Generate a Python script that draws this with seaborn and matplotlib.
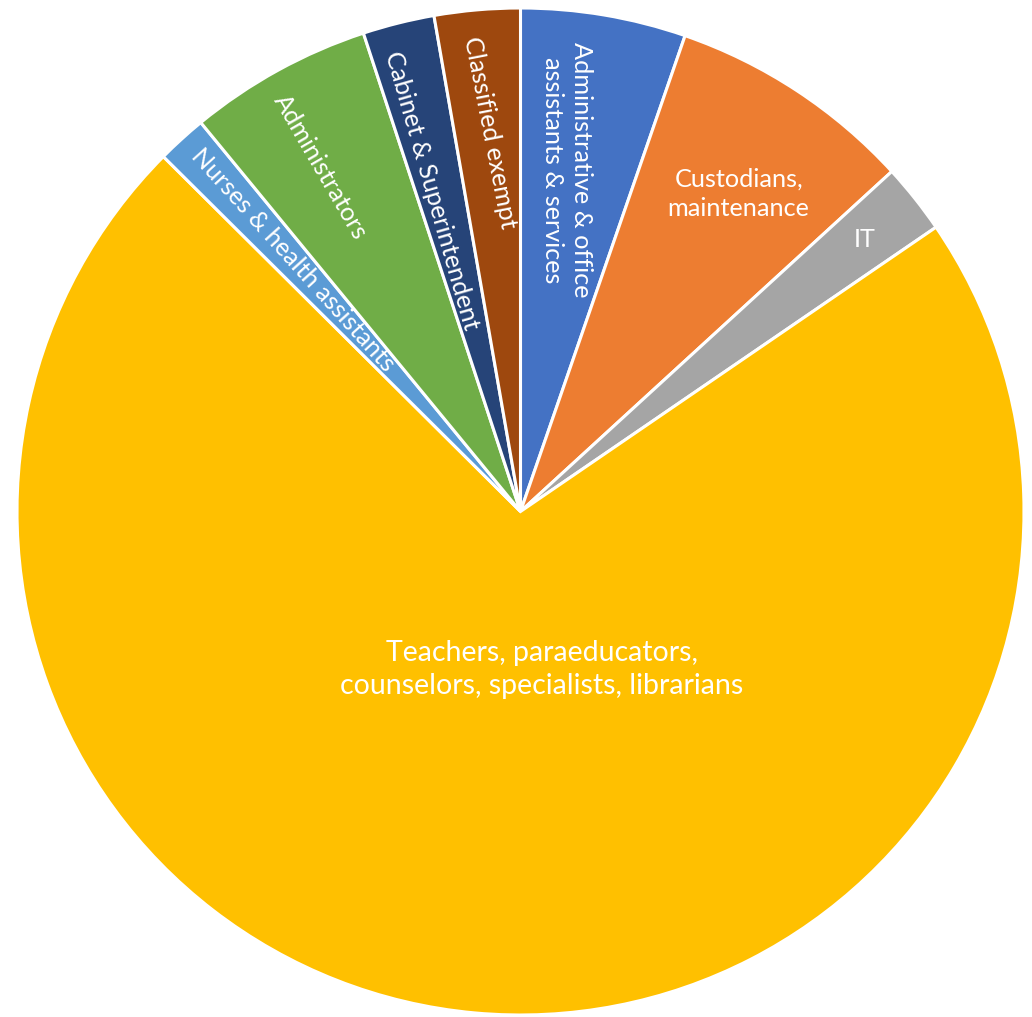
import numpy as np
import matplotlib
matplotlib.use("Agg")
import matplotlib.pyplot as plt
import seaborn as sns

# CONFIG
sns.set_theme(style="white")
plt.rcParams["font.family"] = ["Lato", "DejaVu Sans"]

# DATA (share of staff, percent, clockwise from 12 o'clock)
labels = [
    "Administrative & office\nassistants & services",
    "Custodians,\nmaintenance",
    "IT",
    "Teachers, paraeducators,\ncounselors, specialists, librarians",
    "Nurses & health assistants",
    "Administrators",
    "Cabinet & Superintendent",
    "Classified exempt",
]
shares = [5.3, 7.9, 2.25, 72.0, 1.6, 5.9, 2.3, 2.75]
colors = ["#4472C4", "#ED7D31", "#A5A5A5", "#FFC000",
          "#5B9BD5", "#70AD47", "#264478", "#9E480E"]

# label placement: radius, angle (deg clockwise from top), rotation (None = radial)
label_r = [0.684, 0.765, 0.872, 0.316, 0.674, 0.791, 0.662, 0.755]
label_ang = [7.7, 34.5, 51.65, 172.2, 317.9, 329.9, 344.6, 355.4]
label_rot = [-90, 0, 0, 0, None, None, -74, -79]
label_size = [18.2, 18.2, 18.2, 20.5, 18.2, 18.2, 18.2, 18.2]

# FIGURE
fig = plt.figure(figsize=(10.32, 10.17), dpi=100)
ax = fig.add_axes([0, 0, 1, 1])

wedges, _ = ax.pie(
    shares, colors=colors, startangle=90, counterclock=False,
    wedgeprops=dict(edgecolor="white", linewidth=2.2),
)

# pie() resets the limits, so place the circle afterwards
cx, cy, r = 520.5, 511.5, 503.5
ax.set_xlim(-cx / r, (1032 - cx) / r)
ax.set_ylim((cy - 1017) / r, cy / r)
ax.set_aspect("equal")
ax.axis("off")

for i, lab in enumerate(labels):
    a = np.deg2rad(90 - label_ang[i])
    x = label_r[i] * np.cos(a)
    y = label_r[i] * np.sin(a)
    rot = label_rot[i]
    if rot is None:
        rot = np.rad2deg(a) - 180
    ax.text(x, y, lab, color="white", fontsize=label_size[i],
            ha="center", va="center", rotation=rot,
            rotation_mode="anchor", linespacing=1.33)

fig.savefig("out.png", dpi=100)
